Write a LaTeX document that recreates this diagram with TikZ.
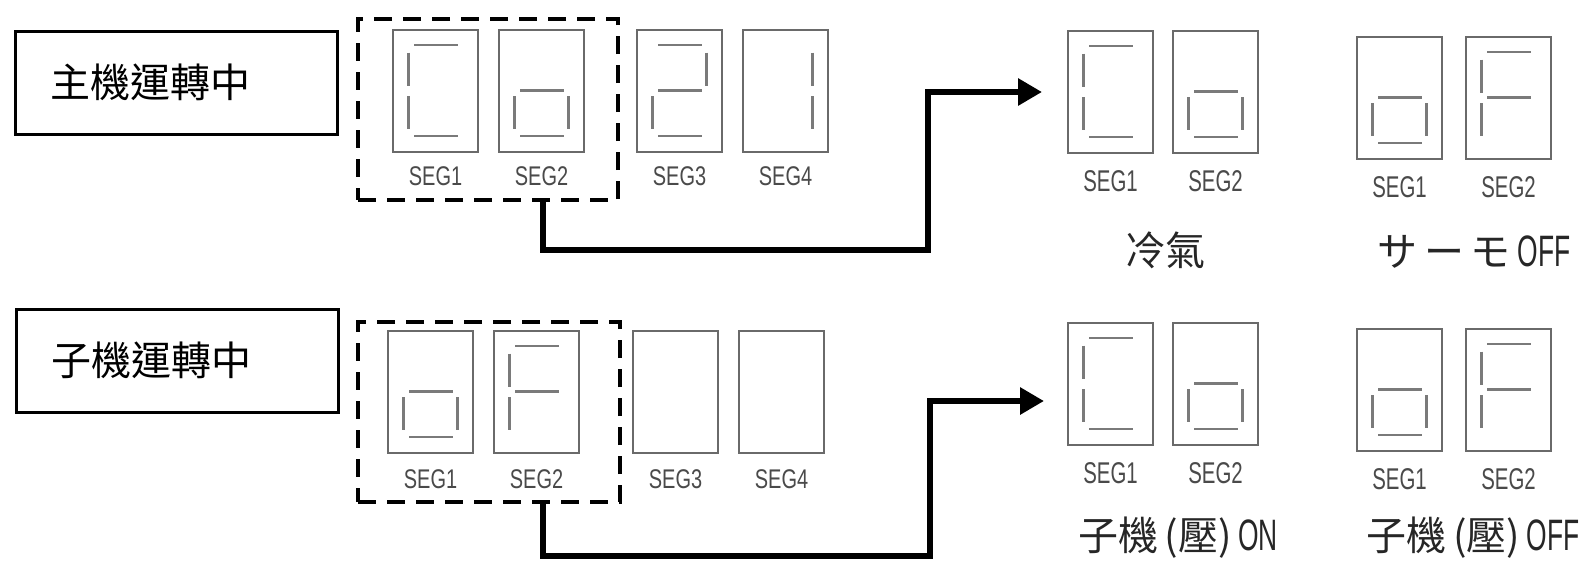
\documentclass[tikz,border=0pt]{standalone}
\usepackage{fontspec}
\setmainfont{Liberation Sans}
\newfontfamily\cjk{Noto Sans CJK TC}
\newfontfamily\segfont[FakeStretch=0.74]{Liberation Sans}
\newfontfamily\segfontR[FakeStretch=0.68]{Liberation Sans}
\newfontfamily\narrowfont[FakeStretch=0.6]{Liberation Sans}
\usetikzlibrary{arrows.meta,calc}
\definecolor{boxgray}{HTML}{6A6A6A}
\definecolor{seggray}{HTML}{7A7A7A}
\definecolor{labgray}{HTML}{4A4A4A}
\newcommand\latin[1]{{\narrowfont\fontsize{44}{44}\selectfont #1}}
\tikzset{
  digitbox/.style={draw=boxgray, line width=1.8pt, anchor=north west, minimum width=85pt, minimum height=122pt, inner sep=0pt, outer sep=0pt},
  segline/.style={draw=seggray, line width=2.2pt},
  seglabel/.style={font=\segfont\fontsize{27}{27}\selectfont, text=labgray, inner sep=0pt},
  seglabelR/.style={font=\segfontR\fontsize{30}{30}\selectfont, text=labgray, inner sep=0pt},
  labelbox/.style={draw=black, line width=3pt, anchor=north west, minimum width=322pt, minimum height=103pt, text width=251pt, align=left, inner xsep=0pt, outer sep=0pt, font=\cjk\fontsize{40}{40}\selectfont},
  dashbox/.style={draw=black, line width=4.5pt, dash pattern=on 18pt off 11pt, anchor=north west, inner sep=0pt, outer sep=0pt},
  conn/.style={draw=black, line width=6.5pt, -{Triangle[length=24pt,width=26pt]}},
  captiontext/.style={font=\cjk\fontsize{40}{40}\selectfont, text=black!85, inner sep=0pt},
}
\newcommand\segA{\draw[segline] (21,14.6) -- (64.5,14.6);}
\newcommand\segB{\draw[segline] (69.5,22.5) -- (69.5,56);}
\newcommand\segC{\draw[segline] (69.5,66) -- (69.5,98.5);}
\newcommand\segD{\draw[segline] (21,106.1) -- (64.5,106.1);}
\newcommand\segE{\draw[segline] (15.5,66) -- (15.5,98.5);}
\newcommand\segF{\draw[segline] (15.5,22.5) -- (15.5,56);}
\newcommand\segG{\draw[segline] (21,60.5) -- (64.5,60.5);}
% #1 name, #2 x, #3 y, #4 segments, #5 label, #6 label offset, #7 label style
\newcommand\digitat[7]{%
  \node[digitbox] (#1) at (#2,#3) {};
  \begin{scope}[shift={(#2,#3)}]\foreach \s in {#4}{\csname seg\s\endcsname}\end{scope}
  \node[#7] (#1l) at ($(#1.south)+(0,#6)$) {#5};}
\begin{document}
\begin{tikzpicture}[x=1pt,y=-1pt]
\fill[white] (0,0) rectangle (1593,566);
\useasboundingbox (0,0) rectangle (1593,566);

% ---- top row
\node[labelbox] (l1) at (15,31) {主機運轉中};
\node[dashbox, minimum width=260pt, minimum height=181pt] (td) at (358,19) {};
\digitat{t1}{393}{30}{A,F,E,D}{SEG1}{24}{seglabel}
\digitat{t2}{499}{30}{G,E,C,D}{SEG2}{24}{seglabel}
\digitat{t3}{637}{30}{A,B,G,E,D}{SEG3}{24}{seglabel}
\digitat{t4}{743}{30}{B,C}{SEG4}{24}{seglabel}

\digitat{r1a}{1068}{31}{A,F,E,D}{SEG1}{28}{seglabelR}
\digitat{r1b}{1173}{31}{G,E,C,D}{SEG2}{28}{seglabelR}
\digitat{r2a}{1357}{37}{G,E,C,D}{SEG1}{28}{seglabelR}
\digitat{r2b}{1466}{37}{A,F,G,E}{SEG2}{28}{seglabelR}
\node[captiontext] (cap1) at (1165,250) {冷氣};
\node[captiontext] (cap2) at (1474,252) {サ\,ー\,モ\,\latin{OFF}};

\coordinate (tb) at (928,250);
\draw[conn] ([xshift=55pt]td.south) |- (tb) |- ([xshift=-26pt]r1a.west);

% ---- bottom row
\node[labelbox] (l2) at (16,309) {子機運轉中};
\node[dashbox, minimum width=262pt, minimum height=180pt] (bd) at (358,322) {};
\digitat{b1}{388}{331}{G,E,C,D}{SEG1}{26}{seglabel}
\digitat{b2}{494}{331}{A,F,G,E}{SEG2}{26}{seglabel}
\digitat{b3}{633}{331}{}{SEG3}{26}{seglabel}
\digitat{b4}{739}{331}{}{SEG4}{26}{seglabel}

\digitat{r3a}{1068}{323}{A,F,E,D}{SEG1}{28}{seglabelR}
\digitat{r3b}{1173}{323}{G,E,C,D}{SEG2}{28}{seglabelR}
\digitat{r4a}{1357}{329}{G,E,C,D}{SEG1}{28}{seglabelR}
\digitat{r4b}{1466}{329}{A,F,G,E}{SEG2}{28}{seglabelR}
\node[captiontext] (cap3) at (1178,538) {子機\,(壓)\,\latin{ON}};
\node[captiontext] (cap4) at (1473,538) {子機\,(壓)\,\latin{OFF}};

\coordinate (bb) at (930,556);
\draw[conn] ([xshift=54pt]bd.south) |- (bb) |- ([xshift=-24pt,yshift=-17pt]r3a.west);
\end{tikzpicture}
\end{document}
